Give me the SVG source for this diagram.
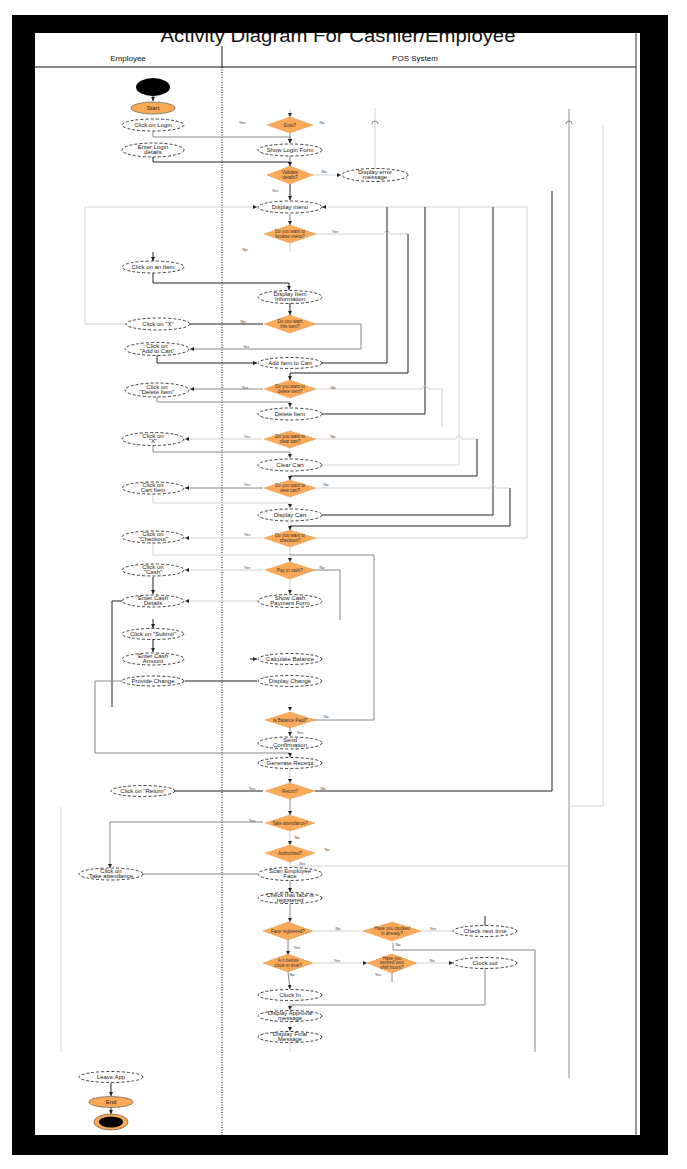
<svg xmlns="http://www.w3.org/2000/svg" width="687" height="1169" viewBox="0 0 687 1169">
<defs>
<marker id="ah" viewBox="0 0 6 6" refX="6" refY="3" markerWidth="4" markerHeight="4" orient="auto"><path d="M0,0 L6,3 L0,6 z" fill="#222"/></marker>
<style>
.act{fill:#fff;stroke:#111;stroke-width:0.8;stroke-dasharray:3 2}
.dec{fill:#FCAA57;stroke:#D98A3A;stroke-width:0.6;stroke-dasharray:2 1}
.ini{fill:#000}
.t{font-family:"Liberation Sans",Arial,sans-serif;font-size:6px;text-anchor:middle;fill:#222}
.td{font-family:"Liberation Sans",Arial,sans-serif;font-size:4.5px;text-anchor:middle;fill:#333}
.lb{font-family:"Liberation Sans",Arial,sans-serif;font-size:4px;text-anchor:middle;fill:#444}
.hd{font-family:"Liberation Sans",Arial,sans-serif;font-size:8px;text-anchor:middle;fill:#111}
.k{fill:none;stroke:#222;stroke-width:1}
.m{fill:none;stroke:#888;stroke-width:1}
.l{fill:none;stroke:#d2d2d2;stroke-width:1}
.a{marker-end:url(#ah)}
</style>
</defs>
<rect width="687" height="1169" fill="#fff"/>
<!-- title & lanes -->
<text x="338" y="42" font-family="Liberation Sans, Arial, sans-serif" font-size="19" text-anchor="middle" fill="#111" textLength="355" lengthAdjust="spacingAndGlyphs">Activity Diagram For Cashier/Employee</text>
<g id="lanes">
<line x1="35" y1="67" x2="636" y2="67" stroke="#111" stroke-width="1"/>
<line x1="222" y1="46" x2="222" y2="67" stroke="#111" stroke-width="1"/>
<line x1="222" y1="67" x2="222" y2="1135" stroke="#111" stroke-width="1" stroke-dasharray="1 1.5"/>
<line x1="636" y1="33" x2="636" y2="1135" stroke="#333" stroke-width="1"/>
<text class="hd" x="128" y="61">Employee</text>
<text class="hd" x="415" y="61">POS System</text>
</g>
<!-- connectors -->
<g id="connectors">
<path class="k a" d="M153,96 L153,101"/>
<path class="m a" d="M153,131 L153,137 L290,137 L290,143"/>
<path class="k a" d="M153,157 L153,162 L290,162 L290,166"/>
<path class="l a" d="M290,109 L290,117"/>
<path class="m a" d="M290,133 L290,143"/>
<path class="m a" d="M290,156 L290,166"/>
<path class="l a" d="M313,175 L341,175"/>
<path class="k a" d="M290,184 L290,200"/>
<path class="l" d="M375,169 L375,108"/>
<path class="m" d="M372,124 A3,3 0 0 1 378,124"/>
<path class="l a" d="M527,207 L322,207"/>
<path class="l a" d="M126,324 L85,324 L85,207 L257,207"/>
<path class="m a" d="M290,214 L290,225"/>
<path class="l" d="M290,243 L290,252"/>
<path class="k a" d="M153,252 L153,261"/>
<path class="l" d="M315,234 L384,234 A3,3 0 0 1 390,234 L408,234"/>
<path class="k a" d="M408,234 L408,373 L290,373 L290,380"/>
<path class="k a" d="M153,272 L153,283 L289,283 L289,290"/>
<path class="k a" d="M290,303 L290,315"/>
<path class="k" d="M263,324 L190,324"/>
<path class="m a" d="M315,324 L361,324 L361,349 L190,349"/>
<path class="k a" d="M157,355 L157,363 L257,363"/>
<path class="k" d="M322,363 L387,363 L387,207"/>
<path class="m a" d="M263,389 L190,389"/>
<path class="m a" d="M157,397 L157,402 L290,402 L290,407"/>
<path class="k" d="M322,414 L425,414 L425,207"/>
<path class="l" d="M315,389 L422,389 A3,3 0 0 1 428,389 L442,389 L442,427"/>
<path class="l a" d="M263,439 L185,439"/>
<path class="m a" d="M153,445 L153,452 L290,452 L290,458"/>
<path class="l" d="M322,465 L459,465 L459,207"/>
<path class="l" d="M316,439 L456,439 A3,3 0 0 1 462,439 L477,439"/>
<path class="k a" d="M477,439 L477,476 L290,476 L290,480"/>
<path class="m a" d="M263,488 L185,488"/>
<path class="l a" d="M153,494 L153,503 L290,503 L290,508"/>
<path class="k" d="M322,515 L493,515 L493,207"/>
<path class="l" d="M316,488 L490,488 A3,3 0 0 1 496,488 L510,488"/>
<path class="k a" d="M510,488 L510,526 L290,526 L290,530"/>
<path class="l a" d="M263,538 L185,538"/>
<path class="l" d="M315,538 L527,538 L527,207"/>
<path class="l" d="M290,547 L290,555"/>
<path class="l a" d="M153,543 L153,555 L290,555 L290,562"/>
<path class="m" d="M290,555 L374,555 L374,720 L313,720"/>
<path class="l a" d="M263,570 L185,570"/>
<path class="k a" d="M153,577 L153,594"/>
<path class="l a" d="M290,578 L290,594"/>
<path class="m" d="M315,570 L340,570 L340,620"/>
<path class="l a" d="M257,601 L185,601"/>
<path class="k" d="M122,601 L112,601 L112,707"/>
<path class="k a" d="M153,619 L153,628"/>
<path class="k a" d="M153,639 L153,652"/>
<path class="k a" d="M250,659 L257,659"/>
<path class="k" d="M185,681 L257,681"/>
<path class="m a" d="M122,681 L95,681 L95,753 L290,753 L290,757"/>
<path class="l a" d="M290,704 L290,711"/>
<path class="m a" d="M290,727 L290,736"/>
<path class="l a" d="M290,769 L290,783"/>
<path class="k" d="M263,791 L175,791"/>
<path class="k" d="M315,791 L552,791 L552,191"/>
<path class="m a" d="M290,799 L290,815"/>
<path class="m a" d="M263,822 L110,822 L110,868"/>
<path class="m" d="M143,874 L257,874"/>
<path class="l a" d="M290,831 L290,845"/>
<path class="l" d="M290,862 L290,866 L569,866"/>
<path class="m a" d="M290,881 L290,892"/>
<path class="m a" d="M290,903 L290,922"/>
<path class="l" d="M313,931 L363,931"/>
<path class="l" d="M421,931 L453,931"/>
<path class="k" d="M485,926 L485,916"/>
<path class="m a" d="M288,940 L288,955"/>
<path class="m" d="M393,943 L393,950 L535,950 L535,1052"/>
<path class="l a" d="M313,963 L367,963"/>
<path class="l a" d="M417,963 L453,963"/>
<path class="m" d="M392,972 L392,982"/>
<path class="m" d="M485,968 L485,1005 L290,1005"/>
<path class="m a" d="M288,972 L290,989"/>
<path class="l a" d="M290,1001 L290,1010"/>
<path class="l a" d="M290,1022 L290,1031"/>
<path class="l" d="M290,1042 L290,1052"/>
<path class="k a" d="M111,1083 L111,1096"/>
<path class="k a" d="M111,1107 L111,1114"/>
<path d="M569,109 L569,1078" fill="none" stroke="#c8c8c8" stroke-width="2"/>
<path class="m" d="M566,124 A3,3 0 0 1 572,124"/>
<path class="l" d="M603,125 L603,806 L569,806"/>
<path class="l" d="M61,807 L61,1052"/>
</g>
<!-- nodes -->
<g id="initial"><ellipse class="ini" cx="153" cy="87" rx="17" ry="9"/></g>
<g id="n-start"><ellipse cx="153" cy="108" rx="22" ry="6" fill="#FCAA57" stroke="#444" stroke-width="0.6"/><text class="t" x="153" y="110">Start</text></g>
<g id="n-click-login"><ellipse class="act" cx="153" cy="125" rx="31" ry="6"/><text class="t" x="153" y="127">Click on Login</text></g>
<g id="n-enter-login"><ellipse class="act" cx="153" cy="150" rx="31" ry="7"/><text class="t" x="153" y="148.5">Enter Login<tspan x="153" dy="5.5">details</tspan></text></g>
<g id="n-click-item"><ellipse class="act" cx="153" cy="267" rx="31" ry="6"/><text class="t" x="153" y="269">Click on an Item</text></g>
<g id="n-click-x"><ellipse class="act" cx="158" cy="324" rx="32" ry="6"/><text class="t" x="158" y="326">Click on "X"</text></g>
<g id="n-click-add"><ellipse class="act" cx="157" cy="349" rx="32" ry="6.5"/><text class="t" x="157" y="347.5">Click on<tspan x="157" dy="5.5">"Add to Cart"</tspan></text></g>
<g id="n-click-delete"><ellipse class="act" cx="157" cy="390" rx="32" ry="7"/><text class="t" x="157" y="388.5">Click on<tspan x="157" dy="5.5">"Delete Item"</tspan></text></g>
<g id="n-click-clear"><ellipse class="act" cx="153" cy="439" rx="31" ry="6.5"/><text class="t" x="153" y="437.5">Click on<tspan x="153" dy="5.5">"X"</tspan></text></g>
<g id="n-click-cart"><ellipse class="act" cx="153" cy="488" rx="31" ry="6"/><text class="t" x="153" y="486.5">Click on<tspan x="153" dy="5.5">Cart Item</tspan></text></g>
<g id="n-click-checkout"><ellipse class="act" cx="153" cy="537" rx="31" ry="6"/><text class="t" x="153" y="535.5">Click on<tspan x="153" dy="5.5">"Checkout"</tspan></text></g>
<g id="n-click-cash"><ellipse class="act" cx="153" cy="570" rx="31" ry="6"/><text class="t" x="153" y="568.5">Click on<tspan x="153" dy="5.5">"Cash"</tspan></text></g>
<g id="n-enter-cash"><ellipse class="act" cx="153" cy="601" rx="31" ry="6"/><text class="t" x="153" y="599.5">Enter Cash<tspan x="153" dy="5.5">Details</tspan></text></g>
<g id="n-submit"><ellipse class="act" cx="153" cy="634" rx="31" ry="5.5"/><text class="t" x="153" y="636">Click on "Submit"</text></g>
<g id="n-cash-amount"><ellipse class="act" cx="153" cy="659" rx="31" ry="6"/><text class="t" x="153" y="657.5">Enter Cash<tspan x="153" dy="5.5">Amount</tspan></text></g>
<g id="n-provide-change"><ellipse class="act" cx="153" cy="681" rx="31" ry="5"/><text class="t" x="153" y="683">Provide Change</text></g>
<g id="n-click-return"><ellipse class="act" cx="143" cy="791" rx="32" ry="5.5"/><text class="t" x="143" y="793">Click on "Return"</text></g>
<g id="n-attendance"><ellipse class="act" cx="111" cy="874" rx="32" ry="6"/><text class="t" x="111" y="872.5">Click on<tspan x="111" dy="5.5">Take attendance</tspan></text></g>
<g id="n-leave"><ellipse class="act" cx="111" cy="1077" rx="32" ry="5.5"/><text class="t" x="111" y="1079">Leave App</text></g>
<g id="n-end"><ellipse cx="111" cy="1102" rx="22" ry="5.5" fill="#FCAA57" stroke="#444" stroke-width="0.6"/><text class="t" x="111" y="1104">End</text></g>
<g id="final"><ellipse cx="111" cy="1122" rx="17" ry="8" fill="#FCAA57" stroke="#444" stroke-width="0.6"/><ellipse cx="111" cy="1122" rx="12" ry="5.5" fill="#000"/></g>

<g id="d-exist"><polygon class="dec" points="290,117 313,125 290,133 267,125"/><text class="td" x="290" y="126.5">Exist?</text></g>
<g id="n-show-login"><ellipse class="act" cx="290" cy="150" rx="32" ry="6"/><text class="t" x="290" y="152">Show Login Form</text></g>
<g id="d-validate"><polygon class="dec" points="290,166 313,175 290,184 267,175"/><text class="td" x="290" y="174">Validate<tspan x="290" dy="4.5">details?</tspan></text></g>
<g id="n-error"><ellipse class="act" cx="375" cy="175" rx="33" ry="6.5"/><text class="t" x="375" y="173.5">Display error<tspan x="375" dy="5.5">message</tspan></text></g>
<g id="n-menu"><ellipse class="act" cx="290" cy="207" rx="32" ry="6"/><text class="t" x="290" y="209">Display menu</text></g>
<g id="d-browse"><polygon class="dec" points="290,225 316,234 290,243 264,234"/><text class="td" x="290" y="233">Do you want to<tspan x="290" dy="4.5">browse menu?</tspan></text></g>
<g id="n-item-info"><ellipse class="act" cx="290" cy="297" rx="32" ry="6.5"/><text class="t" x="290" y="295.5">Display Item<tspan x="290" dy="5.5">Information</tspan></text></g>
<g id="d-want-item"><polygon class="dec" points="290,315 316,324 290,333 264,324"/><text class="td" x="290" y="323">Do you want<tspan x="290" dy="4.5">this item?</tspan></text></g>
<g id="n-add-cart"><ellipse class="act" cx="290" cy="363" rx="32" ry="5.5"/><text class="t" x="290" y="365">Add Item to Cart</text></g>
<g id="d-delete"><polygon class="dec" points="290,380 316,389 290,398 264,389"/><text class="td" x="290" y="388">Do you want to<tspan x="290" dy="4.5">delete item?</tspan></text></g>
<g id="n-delete"><ellipse class="act" cx="290" cy="414" rx="32" ry="6"/><text class="t" x="290" y="416">Delete Item</text></g>
<g id="d-clear"><polygon class="dec" points="290,431 316,439 290,448 264,439"/><text class="td" x="290" y="438">Do you want to<tspan x="290" dy="4.5">clear cart?</tspan></text></g>
<g id="n-clear"><ellipse class="act" cx="290" cy="465" rx="32" ry="6"/><text class="t" x="290" y="467">Clear Cart</text></g>
<g id="d-view-cart"><polygon class="dec" points="290,480 316,488 290,497 264,488"/><text class="td" x="290" y="487">Do you want to<tspan x="290" dy="4.5">view cart?</tspan></text></g>
<g id="n-display-cart"><ellipse class="act" cx="290" cy="515" rx="32" ry="6"/><text class="t" x="290" y="517">Display Cart</text></g>
<g id="d-checkout"><polygon class="dec" points="290,530 316,538 290,547 264,538"/><text class="td" x="290" y="537">Do you want to<tspan x="290" dy="4.5">checkout?</tspan></text></g>
<g id="d-cash"><polygon class="dec" points="290,562 315,570 290,579 265,570"/><text class="td" x="290" y="571.5">Pay in cash?</text></g>
<g id="n-cash-form"><ellipse class="act" cx="290" cy="601" rx="32" ry="6.5"/><text class="t" x="290" y="599.5">Show Cash<tspan x="290" dy="5.5">Payment Form</tspan></text></g>
<g id="n-calc"><ellipse class="act" cx="290" cy="659" rx="32" ry="5.5"/><text class="t" x="290" y="661">Calculate Balance</text></g>
<g id="n-display-change"><ellipse class="act" cx="290" cy="681" rx="32" ry="5.5"/><text class="t" x="290" y="683">Display Change</text></g>
<g id="d-sufficient"><polygon class="dec" points="290,712 315,720 290,728 265,720"/><text class="td" x="290" y="721.5">Is Balance Paid?</text></g>
<g id="n-confirm"><ellipse class="act" cx="290" cy="743" rx="32" ry="6"/><text class="t" x="290" y="741.5">Send<tspan x="290" dy="5.5">Confirmation</tspan></text></g>
<g id="n-receipt"><ellipse class="act" cx="290" cy="763" rx="32" ry="5.5"/><text class="t" x="290" y="765">Generate Receipt</text></g>
<g id="d-return"><polygon class="dec" points="290,783 315,791 290,799 265,791"/><text class="td" x="290" y="792.5">Return?</text></g>
<g id="d-attendance"><polygon class="dec" points="290,815 315,823 290,831 265,823"/><text class="td" x="290" y="824.5">Take attendance?</text></g>
<g id="d-authorized"><polygon class="dec" points="290,845 315,853 290,862 265,853"/><text class="td" x="290" y="854.5">Authorized?</text></g>
<g id="n-scan"><ellipse class="act" cx="290" cy="874" rx="32" ry="6.5"/><text class="t" x="290" y="872.5">Scan Employee<tspan x="290" dy="5.5">Face</tspan></text></g>
<g id="n-check-face"><ellipse class="act" cx="290" cy="898" rx="32" ry="5.5"/><text class="t" x="290" y="896.5">Check that face is<tspan x="290" dy="5.5">registered</tspan></text></g>
<g id="d-registered"><polygon class="dec" points="288,922 313,931 288,940 263,931"/><text class="td" x="288" y="932.5">Face registered?</text></g>
<g id="d-clocked"><polygon class="dec" points="392,922 421,931 392,941 363,931"/><text class="td" x="392" y="930">Have you clocked<tspan x="392" dy="4.5">in already?</tspan></text></g>
<g id="n-check-next"><ellipse class="act" cx="485" cy="931" rx="32" ry="5.5"/><text class="t" x="485" y="933">Check next time</text></g>
<g id="d-time"><polygon class="dec" points="288,954 313,963 288,972 263,963"/><text class="td" x="288" y="962">Is it before<tspan x="288" dy="4.5">clock-in time?</tspan></text></g>
<g id="d-clockout"><polygon class="dec" points="392,954 417,963 392,973 367,963"/><text class="td" x="392" y="959.5">Have you<tspan x="392" dy="4.5">worked your</tspan><tspan x="392" dy="4.5">shift hours?</tspan></text></g>
<g id="n-clock-out"><ellipse class="act" cx="485" cy="963" rx="32" ry="5.5"/><text class="t" x="485" y="965">Clock out</text></g>
<g id="n-clock-in"><ellipse class="act" cx="290" cy="995" rx="32" ry="5.5"/><text class="t" x="290" y="997">Clock In</text></g>
<g id="n-approval"><ellipse class="act" cx="290" cy="1016" rx="32" ry="5.5"/><text class="t" x="290" y="1014.5">Display Approval<tspan x="290" dy="5.5">message</tspan></text></g>
<g id="n-final-msg"><ellipse class="act" cx="290" cy="1037" rx="32" ry="5.5"/><text class="t" x="290" y="1035.5">Display Final<tspan x="290" dy="5.5">Message</tspan></text></g>
<!-- guard labels -->
<g id="labels">
<text class="lb" x="242" y="124">Yes</text><text class="lb" x="322" y="124">No</text>
<text class="lb" x="324" y="173">No</text><text class="lb" x="275" y="192">Yes</text>
<text class="lb" x="335" y="233">Yes</text><text class="lb" x="245" y="251">No</text>
<text class="lb" x="243" y="323">No</text><text class="lb" x="246" y="348">Yes</text>
<text class="lb" x="245" y="389">Yes</text><text class="lb" x="333" y="389">No</text>
<text class="lb" x="247" y="438">Yes</text><text class="lb" x="333" y="438">No</text>
<text class="lb" x="247" y="486">Yes</text><text class="lb" x="326" y="486">No</text>
<text class="lb" x="247" y="536">Yes</text>
<text class="lb" x="247" y="569">Yes</text><text class="lb" x="322" y="569">No</text>
<text class="lb" x="326" y="718">No</text><text class="lb" x="300" y="734">Yes</text>
<text class="lb" x="252" y="790">Yes</text><text class="lb" x="323" y="790">No</text>
<text class="lb" x="252" y="822">Yes</text><text class="lb" x="297" y="839">No</text>
<text class="lb" x="327" y="851">No</text><text class="lb" x="302" y="865">Yes</text>
<text class="lb" x="338" y="930">No</text><text class="lb" x="297" y="949">Yes</text>
<text class="lb" x="433" y="930">Yes</text><text class="lb" x="398" y="946">No</text>
<text class="lb" x="337" y="962">Yes</text><text class="lb" x="292" y="976">No</text>
<text class="lb" x="432" y="962">No</text><text class="lb" x="378" y="976">Yes</text>
</g>
<!-- frame -->
<g id="frame" fill="#000">
<rect x="12" y="15" width="656" height="18"/>
<rect x="12" y="15" width="23" height="1140"/>
<rect x="640" y="15" width="28" height="1140"/>
<rect x="12" y="1135" width="656" height="20"/>
</g>
</svg>
